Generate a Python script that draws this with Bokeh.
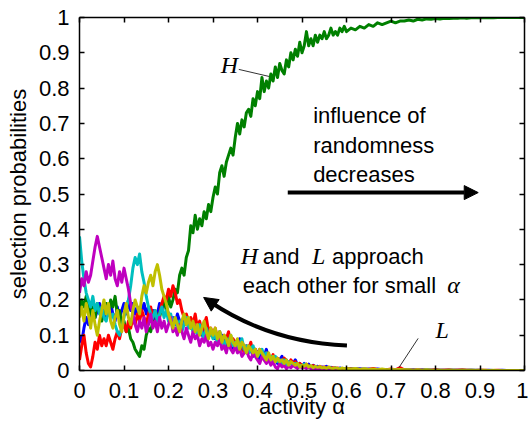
from bokeh.plotting import figure
from bokeh.models import Range1d, LinearAxis, FixedTicker, Label, Arrow, NormalHead
from bokeh.embed import file_html
from bokeh.resources import INLINE

# ---------------- data ----------------
# sample points: every 0.005 up to 0.6, then every 0.01 up to 1
alpha = [round(i * 0.005, 3) for i in range(121)] + [round(0.6 + i * 0.01, 2) for i in range(1, 41)]

H_green = [
    0.17, 0.20, 0.18, 0.21, 0.19, 0.16, 0.18, 0.15, 0.19, 0.17,
    0.14, 0.17, 0.19, 0.16, 0.20, 0.18, 0.21, 0.16, 0.17, 0.13,
    0.14, 0.11, 0.12, 0.09, 0.08, 0.06, 0.05, 0.04, 0.07, 0.06,
    0.10, 0.12, 0.11, 0.14, 0.13, 0.16, 0.15, 0.18, 0.20, 0.17,
    0.21, 0.18, 0.20, 0.23, 0.22, 0.27, 0.29, 0.27, 0.32, 0.34,
    0.41, 0.39, 0.44, 0.40, 0.43, 0.41, 0.45, 0.43, 0.47, 0.45,
    0.49, 0.52, 0.50, 0.56, 0.58, 0.55, 0.59, 0.61, 0.63, 0.61,
    0.66, 0.70, 0.67, 0.71, 0.69, 0.73, 0.74, 0.72, 0.77, 0.75,
    0.79, 0.77, 0.83, 0.79, 0.82, 0.80, 0.84, 0.82, 0.86, 0.83,
    0.87, 0.85, 0.84, 0.88, 0.86, 0.90, 0.88, 0.91, 0.89, 0.93,
    0.90, 0.92, 0.96, 0.92, 0.94, 0.92, 0.95, 0.93, 0.95, 0.94,
    0.96, 0.94, 0.95, 0.97, 0.95, 0.96, 0.95, 0.97, 0.96, 0.975,
    0.96,
    0.97, 0.965, 0.975, 0.97, 0.98, 0.975, 0.985, 0.98, 0.985, 0.99,
    0.985, 0.99, 0.99, 0.993, 0.99, 0.995, 0.993, 0.996, 0.995, 0.997,
    0.996, 0.998, 0.997, 0.998, 0.998, 0.999, 0.998, 0.999, 0.999, 0.999,
    0.999, 1.0, 0.999, 1.0, 1.0, 1.0, 1.0, 1.0, 1.0, 1.0]

L_blue = [
    0.10, 0.08, 0.12, 0.15, 0.13, 0.17, 0.18, 0.15, 0.17, 0.19,
    0.16, 0.18, 0.15, 0.17, 0.19, 0.16, 0.14, 0.18, 0.15, 0.17,
    0.19, 0.16, 0.20, 0.17, 0.19, 0.16, 0.18, 0.15, 0.17, 0.19,
    0.16, 0.18, 0.15, 0.17, 0.14, 0.16, 0.19, 0.17, 0.20, 0.18,
    0.16, 0.14, 0.15, 0.13, 0.16, 0.14, 0.12, 0.15, 0.13, 0.14,
    0.12, 0.14, 0.11, 0.13, 0.12, 0.10, 0.13, 0.11, 0.12, 0.10,
    0.11, 0.09, 0.10, 0.08, 0.10, 0.09, 0.07, 0.09, 0.08, 0.06,
    0.08, 0.07, 0.09, 0.06, 0.07, 0.05, 0.07, 0.06, 0.04, 0.06,
    0.05, 0.03, 0.05, 0.04, 0.06, 0.03, 0.04, 0.025, 0.035, 0.02,
    0.03, 0.04, 0.02, 0.03, 0.015, 0.025, 0.02, 0.03, 0.015, 0.02,
    0.01, 0.02, 0.012, 0.018, 0.008, 0.015, 0.01, 0.012, 0.006, 0.01,
    0.008, 0.012, 0.006, 0.009, 0.005, 0.008, 0.004, 0.007, 0.005, 0.006,
    0.004,
    0.006, 0.004, 0.005, 0.003, 0.004, 0.003, 0.004, 0.002, 0.003, 0.002,
    0.003, 0.002, 0.002, 0.001, 0.002, 0.001, 0.002, 0.001, 0.001, 0.001,
    0.001, 0.001, 0.001, 0.001, 0.001, 0.001, 0.001, 0.001, 0.001, 0.001,
    0.0, 0.001, 0.0, 0.0, 0.001, 0.0, 0.0, 0.0, 0.0, 0.0]

L_red = [
    0.03, 0.07, 0.10, 0.05, 0.02, 0.01, 0.04, 0.08, 0.06, 0.10,
    0.07, 0.09, 0.07, 0.10, 0.08, 0.06, 0.09, 0.11, 0.09, 0.12,
    0.13, 0.11, 0.14, 0.12, 0.15, 0.13, 0.16, 0.14, 0.17, 0.15,
    0.13, 0.16, 0.18, 0.15, 0.17, 0.14, 0.16, 0.19, 0.21, 0.20,
    0.23, 0.21, 0.24, 0.22, 0.19, 0.20, 0.17, 0.15, 0.16, 0.14,
    0.15, 0.13, 0.16, 0.12, 0.14, 0.11, 0.13, 0.15, 0.11, 0.12,
    0.10, 0.12, 0.09, 0.11, 0.08, 0.10, 0.09, 0.11, 0.07, 0.09,
    0.08, 0.06, 0.08, 0.07, 0.05, 0.07, 0.06, 0.08, 0.05, 0.06,
    0.04, 0.06, 0.05, 0.03, 0.05, 0.04, 0.03, 0.045, 0.025, 0.035,
    0.03, 0.02, 0.035, 0.025, 0.015, 0.03, 0.02, 0.025, 0.012, 0.02,
    0.015, 0.01, 0.018, 0.012, 0.008, 0.014, 0.01, 0.006, 0.012, 0.008,
    0.01, 0.006, 0.009, 0.005, 0.008, 0.004, 0.007, 0.005, 0.006, 0.004,
    0.005,
    0.004, 0.005, 0.003, 0.004, 0.003, 0.006, 0.002, 0.003, 0.002, 0.004,
    0.002, 0.008, 0.002, 0.003, 0.001, 0.002, 0.001, 0.002, 0.001, 0.003,
    0.001, 0.001, 0.002, 0.001, 0.001, 0.002, 0.001, 0.001, 0.0, 0.001,
    0.001, 0.0, 0.0, 0.001, 0.0, 0.0, 0.0, 0.0, 0.0, 0.0]

L_cyan = [
    0.38, 0.31, 0.26, 0.22, 0.20, 0.18, 0.21, 0.17, 0.19, 0.16,
    0.18, 0.15, 0.14, 0.17, 0.15, 0.16, 0.13, 0.11, 0.10, 0.12,
    0.15, 0.18, 0.20, 0.24, 0.29, 0.32, 0.30, 0.33, 0.28, 0.25,
    0.21, 0.18, 0.16, 0.15, 0.17, 0.14, 0.16, 0.18, 0.15, 0.17,
    0.14, 0.16, 0.13, 0.15, 0.12, 0.14, 0.11, 0.13, 0.15, 0.12,
    0.13, 0.11, 0.12, 0.10, 0.13, 0.11, 0.09, 0.12, 0.10, 0.11,
    0.09, 0.10, 0.08, 0.11, 0.09, 0.07, 0.09, 0.08, 0.10, 0.07,
    0.08, 0.06, 0.07, 0.09, 0.06, 0.07, 0.05, 0.06, 0.07, 0.05,
    0.04, 0.05, 0.06, 0.04, 0.05, 0.03, 0.04, 0.03, 0.04, 0.025,
    0.03, 0.02, 0.03, 0.015, 0.025, 0.02, 0.015, 0.02, 0.01, 0.015,
    0.012, 0.018, 0.008, 0.012, 0.01, 0.006, 0.01, 0.007, 0.009, 0.005,
    0.007, 0.004, 0.006, 0.005, 0.003, 0.005, 0.004, 0.006, 0.003, 0.004,
    0.003,
    0.003, 0.005, 0.002, 0.004, 0.002, 0.003, 0.002, 0.003, 0.001, 0.002,
    0.001, 0.002, 0.001, 0.002, 0.001, 0.001, 0.001, 0.002, 0.001, 0.001,
    0.001, 0.0, 0.001, 0.001, 0.0, 0.001, 0.0, 0.001, 0.0, 0.0,
    0.0, 0.0, 0.0, 0.0, 0.0, 0.0, 0.0, 0.0, 0.0, 0.0]

L_magenta = [
    0.22, 0.26, 0.24, 0.28, 0.25, 0.27, 0.31, 0.35, 0.38, 0.35,
    0.32, 0.29, 0.26, 0.30, 0.27, 0.31, 0.26, 0.24, 0.28, 0.25,
    0.29, 0.26, 0.23, 0.19, 0.16, 0.13, 0.11, 0.14, 0.12, 0.15,
    0.11, 0.13, 0.16, 0.12, 0.14, 0.11, 0.15, 0.12, 0.14, 0.11,
    0.13, 0.15, 0.11, 0.12, 0.10, 0.13, 0.11, 0.09, 0.12, 0.10,
    0.08, 0.11, 0.09, 0.10, 0.07, 0.09, 0.08, 0.10, 0.07, 0.08,
    0.06, 0.08, 0.07, 0.09, 0.06, 0.07, 0.05, 0.08, 0.06, 0.05,
    0.07, 0.05, 0.06, 0.04, 0.05, 0.06, 0.04, 0.03, 0.05, 0.04,
    0.03, 0.02, 0.04, 0.03, 0.02, 0.03, 0.015, 0.025, 0.01, 0.005,
    0.02, 0.01, 0.015, 0.005, 0.012, 0.008, 0.015, 0.01, 0.006, 0.012,
    0.008, 0.01, 0.006, 0.009, 0.005, 0.007, 0.004, 0.006, 0.005, 0.004,
    0.005, 0.003, 0.004, 0.002, 0.004, 0.003, 0.002, 0.003, 0.002, 0.003,
    0.002,
    0.002, 0.003, 0.002, 0.002, 0.001, 0.002, 0.001, 0.002, 0.001, 0.001,
    0.001, 0.001, 0.0, 0.001, 0.001, 0.0, 0.001, 0.0, 0.001, 0.0,
    0.0, 0.001, 0.0, 0.0, 0.001, 0.0, 0.0, 0.0, 0.0, 0.0,
    0.0, 0.0, 0.0, 0.0, 0.0, 0.0, 0.0, 0.0, 0.0, 0.0]

L_yellow = [
    0.15, 0.18, 0.14, 0.19, 0.16, 0.12, 0.17, 0.13, 0.10, 0.14,
    0.17, 0.20, 0.16, 0.19, 0.14, 0.12, 0.15, 0.17, 0.13, 0.11,
    0.16, 0.19, 0.15, 0.13, 0.17, 0.20, 0.18, 0.16, 0.21, 0.24,
    0.22, 0.25, 0.27, 0.24, 0.28, 0.30, 0.27, 0.23, 0.21, 0.19,
    0.16, 0.14, 0.12, 0.15, 0.13, 0.11, 0.14, 0.16, 0.13, 0.15,
    0.12, 0.14, 0.11, 0.13, 0.10, 0.12, 0.14, 0.11, 0.09, 0.12,
    0.10, 0.12, 0.09, 0.11, 0.08, 0.10, 0.09, 0.07, 0.10, 0.08,
    0.07, 0.09, 0.06, 0.08, 0.07, 0.05, 0.07, 0.06, 0.05, 0.06,
    0.04, 0.06, 0.05, 0.04, 0.03, 0.05, 0.03, 0.04, 0.025, 0.035,
    0.025, 0.03, 0.02, 0.03, 0.015, 0.025, 0.02, 0.015, 0.02, 0.01,
    0.015, 0.012, 0.018, 0.01, 0.014, 0.008, 0.012, 0.009, 0.011, 0.007,
    0.009, 0.006, 0.01, 0.007, 0.005, 0.008, 0.006, 0.004, 0.007, 0.005,
    0.006,
    0.004, 0.006, 0.003, 0.005, 0.003, 0.004, 0.002, 0.004, 0.002, 0.003,
    0.002, 0.003, 0.002, 0.002, 0.001, 0.002, 0.001, 0.002, 0.001, 0.001,
    0.001, 0.001, 0.001, 0.001, 0.001, 0.001, 0.001, 0.001, 0.001, 0.001,
    0.001, 0.0, 0.001, 0.0, 0.0, 0.0, 0.0, 0.0, 0.0, 0.0]

series = [
    (L_blue, "#0000FF"),
    (H_green, "#008000"),
    (L_red, "#FF0000"),
    (L_cyan, "#00BFBF"),
    (L_magenta, "#BF00BF"),
    (L_yellow, "#BFBF00"),
]

x_ticks = [0, 0.1, 0.2, 0.3, 0.4, 0.5, 0.6, 0.7, 0.8, 0.9, 1]
x_tick_labels = ["0", "0.1", "0.2", "0.3", "0.4", "0.5", "0.6", "0.7", "0.8", "0.9", "1"]
y_ticks = [0, 0.1, 0.2, 0.3, 0.4, 0.5, 0.6, 0.7, 0.8, 0.9, 1]
y_tick_labels = ["0", "0.1", "0.2", "0.3", "0.4", "0.5", "0.6", "0.7", "0.8", "0.9", "1"]

SANS = "Liberation Sans"
SERIF = "Liberation Serif"
FS = "22px"
FS_IT = "24px"

# ---------------- figure ----------------
p = figure(width=528, height=423, x_range=Range1d(0, 1), y_range=Range1d(0, 1),
           output_backend="svg", toolbar_location=None,
           min_border_left=79, min_border_right=4, min_border_top=17, min_border_bottom=53)
p.xgrid.visible = False
p.ygrid.visible = False
p.outline_line_color = None
p.background_fill_color = "white"
p.border_fill_color = "white"


def style_axis(ax, ticks, labels, show_labels=True):
    ax.ticker = FixedTicker(ticks=ticks)
    ax.major_tick_in = 5
    ax.major_tick_out = 0
    ax.minor_tick_in = 0
    ax.minor_tick_out = 0
    ax.axis_line_width = 1.5
    ax.axis_line_color = "black"
    ax.major_tick_line_width = 1.5
    ax.major_tick_line_color = "black"
    if show_labels:
        ax.major_label_overrides = dict(zip(ticks, labels))
        ax.major_label_text_font = SANS
        ax.major_label_text_font_size = FS
        ax.major_label_text_color = "black"
    else:
        ax.major_label_overrides = {t: "" for t in ticks}
        ax.major_label_text_font_size = "1px"
        ax.major_label_standoff = 0


xa = p.xaxis[0]
style_axis(xa, x_ticks, x_tick_labels)
xa.major_label_standoff = 12
xa.axis_label = "activity α"
xa.axis_label_text_font = SANS
xa.axis_label_text_font_size = FS
xa.axis_label_text_font_style = "normal"
xa.axis_label_text_color = "black"
xa.axis_label_standoff = -7

ya = p.yaxis[0]
style_axis(ya, y_ticks, y_tick_labels)
ya.major_label_standoff = 10
ya.axis_label = "selection probabilities"
ya.axis_label_text_font = SANS
ya.axis_label_text_font_size = FS
ya.axis_label_text_font_style = "normal"
ya.axis_label_text_color = "black"
ya.axis_label_standoff = 5

top_ax = LinearAxis()
style_axis(top_ax, x_ticks, x_tick_labels, show_labels=False)
p.add_layout(top_ax, "above")
right_ax = LinearAxis()
style_axis(right_ax, y_ticks, y_tick_labels, show_labels=False)
p.add_layout(right_ax, "right")

# ---------------- lines ----------------
for vals, col in series:
    n = min(len(alpha), len(vals))
    p.line(alpha[:n], vals[:n], line_color=col, line_width=3, line_join="round")


# ---------------- annotations ----------------
def txt(x, y, s, serif=False, align="left"):
    p.add_layout(Label(x=x, y=y, text=s,
                       text_font=SERIF if serif else SANS,
                       text_font_style="italic" if serif else "normal",
                       text_font_size=FS_IT if serif else FS,
                       text_align=align, text_baseline="middle", text_color="black"))


# H label + leader
txt(0.337, 0.8643, "H", serif=True, align="center")
p.line([0.358, 0.426], [0.853, 0.833], line_color="#333333", line_width=1)
# L label + leader
txt(0.815, 0.1136, "L", serif=True, align="center")
p.line([0.761, 0.718], [0.091, 0.0085], line_color="#333333", line_width=1)

# influence of randomness decreases
txt(0.525, 0.7212, "influence of")
txt(0.525, 0.6363, "randomness")
txt(0.525, 0.5541, "decreases")
p.add_layout(Arrow(end=NormalHead(size=14, fill_color="black", line_color="black"),
                   x_start=0.468, y_start=0.504, x_end=0.896, y_end=0.504,
                   line_width=4, line_color="black"))

# H and L approach each other for small alpha
txt(0.3626, 0.3232, "H", serif=True)
txt(0.412, 0.3218, "and")
txt(0.5225, 0.3232, "L", serif=True)
txt(0.5676, 0.3218, "approach")
txt(0.367, 0.2397, "each other for small")
txt(0.8266, 0.2411, "α", serif=True)

# curved arrow
p.quadratic(x0=[0.601], y0=[0.0708], x1=[0.294], y1=[0.194], cx=[0.430], cy=[0.0793],
            line_color="black", line_width=4)
p.add_layout(Arrow(end=NormalHead(size=14, fill_color="black", line_color="black"),
                   x_start=0.294, y_start=0.194, x_end=0.279, y_end=0.207,
                   line_width=4, line_color="black"))

open("out.html", "w").write(file_html(p, INLINE))
